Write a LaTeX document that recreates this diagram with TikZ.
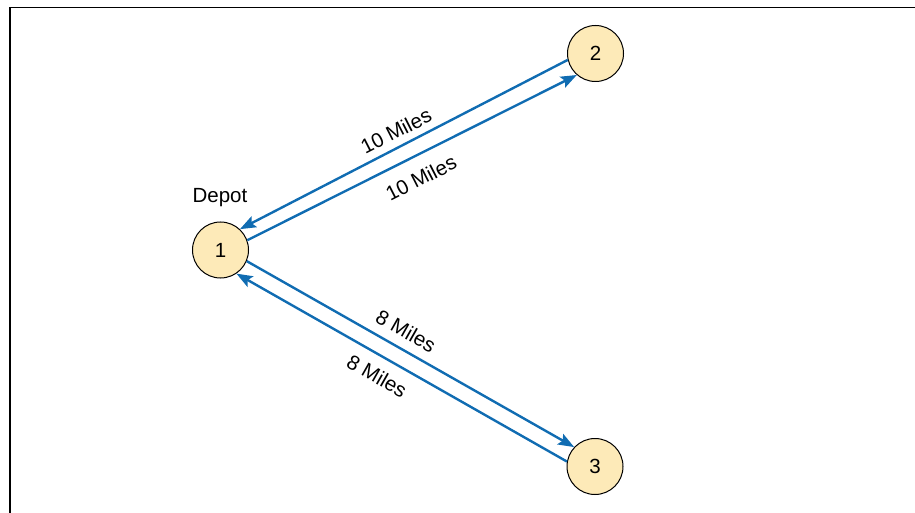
\documentclass[tikz,border=0pt]{standalone}
\usepackage{fontspec}
\setmainfont{Liberation Sans}
\usetikzlibrary{arrows.meta}
\definecolor{routeblue}{RGB}{16,108,178}
\definecolor{stopfill}{RGB}{253,234,184}
\tikzset{
  stop/.style={circle, draw=black, line width=1pt, fill=stopfill,
    minimum size=56pt, inner sep=0pt, font=\fontsize{20.5}{24}\selectfont},
  route/.style={draw=routeblue, line width=2.4pt,
    -{Stealth[length=16pt,width=12pt,inset=3pt]}},
  dist/.style={font=\fontsize{20.5}{24}\selectfont, inner sep=0pt}
}
\begin{document}
\begin{tikzpicture}[x=1pt,y=-1pt]
  \useasboundingbox (0,0) rectangle (915,513);
  % outer frame (open to the right and bottom)
  \draw[line width=1.6pt] (10,513.5) -- (10,7.5) -- (916,7.5);

  % stops
  \node[stop] (n1) at (220.5,250) {1};
  \node[stop] (n2) at (595.5,53.5) {2};
  \node[stop] (n3) at (595,466.5) {3};
  \node[dist] (depot) at (220,198) {Depot};

  % routes between the depot and the customers
  \draw[route] (n2.193) -- (n1.47);
  \draw[route] (n1.20) -- (n2.229);
  \draw[route] (n1.337) -- (n3.137);
  \draw[route] (n3.170) -- (n1.304);

  % distance labels
  \node[dist, rotate=27.1] (d21) at (396,131) {10 Miles};
  \node[dist, rotate=27.1] (d12) at (421,178) {10 Miles};
  \node[dist, rotate=-29.6] (d13) at (406,331) {8 Miles};
  \node[dist, rotate=-29.6] (d31) at (377,376) {8 Miles};
\end{tikzpicture}
\end{document}
